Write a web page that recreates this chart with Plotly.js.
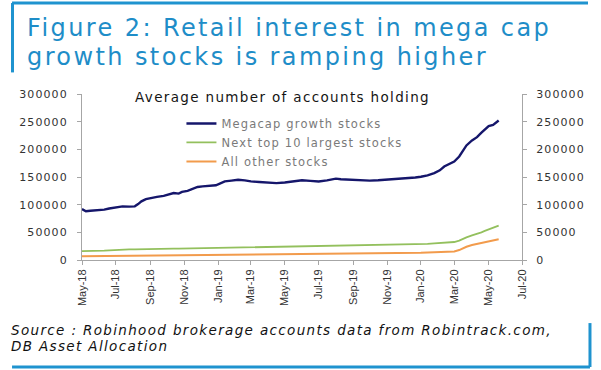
<!DOCTYPE html>
<html>
<head>
<meta charset="utf-8">
<script src="https://cdn.plot.ly/plotly-3.0.1.min.js"></script>
<style>
  html, body { margin: 0; padding: 0; background: #fff; }
  #chart { width: 601px; height: 370px; }
  svg text { letter-spacing: 0.1em; }
  svg .xtick text { letter-spacing: 0; }
</style>
</head>
<body>
<div id="chart"></div>
<script>
// ---- data ----
const dates = [
  '2018-05-01','2018-05-08','2018-05-16','2018-05-28','2018-06-10','2018-06-19','2018-07-01','2018-07-13',
  '2018-07-25','2018-08-04','2018-08-10','2018-08-16','2018-08-24','2018-09-01','2018-09-13','2018-09-25',
  '2018-10-04','2018-10-13','2018-10-22','2018-10-28','2018-11-07','2018-11-16','2018-11-25','2018-12-04',
  '2018-12-16','2018-12-28','2019-01-04','2019-01-13','2019-01-25','2019-02-06','2019-02-18','2019-03-01',
  '2019-03-16','2019-04-01','2019-04-16','2019-05-01','2019-05-16','2019-06-01','2019-06-16','2019-07-01',
  '2019-07-16','2019-08-01','2019-08-10','2019-08-25','2019-09-16','2019-10-01','2019-10-16','2019-11-01',
  '2019-11-16','2019-12-07','2019-12-22','2020-01-01','2020-01-13','2020-01-25','2020-02-04','2020-02-12',
  '2020-02-21','2020-03-01','2020-03-10','2020-03-16','2020-03-23','2020-04-02','2020-04-11','2020-04-19',
  '2020-04-25','2020-05-02','2020-05-10','2020-05-16','2020-05-20'
];
const megacap = [
  92000,88000,89000,89500,91000,93000,95000,97000,
  96500,97000,101000,106000,110000,112000,114000,116000,
  119000,121000,120000,123000,125000,129000,132000,133000,
  134000,135000,138000,142000,143500,145000,144000,142000,
  141000,140000,139000,140000,142000,144000,143000,142000,
  144000,147000,146000,145000,144000,143500,144000,145000,
  146000,147500,149000,150500,153000,157000,162000,169000,
  174000,178000,187000,197000,207000,216000,222000,230000,
  236000,242000,244000,249000,252000
];
const nextTop10 = [
  16000,16000,16200,16500,17000,17500,18500,19000,
  19200,19300,19500,19700,19800,20000,20100,20200,
  20300,20400,20500,20600,20700,20800,20900,21000,
  21100,21300,21500,21800,22000,22200,22300,22500,
  22700,23000,23200,23500,24000,24300,24600,25000,
  25200,25500,25600,25800,26000,26200,26400,26600,
  26900,27300,27700,28000,29000,30000,30500,31000,
  31500,32500,35000,38000,41000,44500,47000,50000,
  52500,55000,57500,60000,62000
];
const allOther = [
  7000,7050,7100,7200,7300,7400,7500,7600,
  7650,7700,7750,7800,7900,8000,8050,8100,
  8200,8250,8300,8350,8400,8500,8600,8700,
  8800,8900,9000,9100,9200,9300,9400,9500,
  9600,9700,9850,10000,10100,10200,10300,10400,
  10500,10600,10700,10800,11000,11200,11400,11600,
  11800,12000,12300,13000,13400,13800,14200,14500,
  15000,15500,18000,21000,24000,27000,29000,31000,
  32500,34000,35500,36800,37500
];
const seriesNames = ['Megacap growth stocks','Next top 10 largest stocks','All other stocks'];
const seriesColors = ['#15166b','#93c05d','#f29b4c'];
const yTickVals = [0,50000,100000,150000,200000,250000,300000];
const yTickText = ['0','50000','100000','150000','200000','250000','300000'];

const titleLines = ['Figure 2: Retail interest in mega cap','growth stocks is ramping higher'];
const chartSubtitle = 'Average number of accounts holding';
const sourceLines = ['Source : Robinhood brokerage accounts data from Robintrack.com,','DB Asset Allocation'];

// ---- figure ----
const FONT = 'DejaVu Sans, Arial, sans-serif';
const BLUE = '#1f93cf';

const traces = [
  {x: dates, y: megacap, name: seriesNames[0], type: 'scatter', mode: 'lines',
   line: {color: seriesColors[0], width: 2.4}},
  {x: dates, y: nextTop10, name: seriesNames[1], type: 'scatter', mode: 'lines',
   line: {color: seriesColors[1], width: 1.8}},
  {x: dates, y: allOther, name: seriesNames[2], type: 'scatter', mode: 'lines',
   line: {color: seriesColors[2], width: 2}},
  {x: [dates[0]], y: [null], yaxis: 'y2', showlegend: false, hoverinfo: 'skip',
   type: 'scatter', mode: 'lines'}
];

const axisCommon = {
  range: [0, 300000], tickvals: yTickVals, ticktext: yTickText,
  showgrid: false, zeroline: false, showline: true, linecolor: '#a6a6a6', linewidth: 1,
  ticks: 'outside', ticklen: 4, tickcolor: '#a6a6a6',
  tickfont: {family: FONT, size: 11, color: '#333'}, ticklabelstandoff: 7, fixedrange: true
};

const layout = {
  width: 601, height: 370,
  margin: {l: 82, r: 79, t: 94, b: 110},
  paper_bgcolor: '#fff', plot_bgcolor: '#fff',
  font: {family: FONT},
  showlegend: true,
  legend: {x: 0.226, y: 0.91, xanchor: 'left', yanchor: 'top', bgcolor: 'rgba(0,0,0,0)',
           font: {family: FONT, size: 11.5, color: '#7a7a7a'}, tracegroupgap: 0},
  xaxis: {
    type: 'date', range: ['2018-05-01', '2020-07-01'],
    tick0: '2018-05-01', dtick: 'M2', tickformat: '%b-%y', tickangle: -90,
    showgrid: false, zeroline: false, showline: true, linecolor: '#a6a6a6', linewidth: 1,
    ticks: 'outside', ticklen: 4, tickcolor: '#a6a6a6',
    tickfont: {family: 'Liberation Sans, Arial, sans-serif', size: 11, color: '#333'}
  },
  yaxis: Object.assign({side: 'left'}, axisCommon),
  yaxis2: Object.assign({side: 'right', overlaying: 'y'}, axisCommon),
  annotations: [
    {text: titleLines[0], xref: 'paper', yref: 'paper', x: -0.13, y: 1.40, xanchor: 'left', yanchor: 'middle',
     showarrow: false, font: {family: FONT, size: 24, color: '#1e8dc8'}},
    {text: titleLines[1], xref: 'paper', yref: 'paper', x: -0.13, y: 1.225, xanchor: 'left', yanchor: 'middle',
     showarrow: false, font: {family: FONT, size: 24, color: '#1e8dc8'}},
    {text: chartSubtitle, xref: 'paper', yref: 'paper', x: 0.4557, y: 0.984, xanchor: 'center', yanchor: 'middle',
     showarrow: false, font: {family: FONT, size: 13.5, color: '#151515'}},
    {text: sourceLines[0], xref: 'paper', yref: 'paper', x: -0.165, y: -0.42, xanchor: 'left', yanchor: 'middle',
     showarrow: false, font: {family: FONT, size: 13.5, color: '#111', style: 'italic'}},
    {text: sourceLines[1], xref: 'paper', yref: 'paper', x: -0.165, y: -0.518, xanchor: 'left', yanchor: 'middle',
     showarrow: false, font: {family: FONT, size: 13.5, color: '#111', style: 'italic'}}
  ],
  shapes: [
    {type: 'line', xref: 'paper', yref: 'paper', x0: -0.159, x1: 1.15, y0: 1.548, y1: 1.548,
     line: {color: BLUE, width: 3}},
    {type: 'line', xref: 'paper', yref: 'paper', x0: -0.158, x1: -0.158, y0: 1.548, y1: 1.13,
     line: {color: BLUE, width: 3}},
    {type: 'line', xref: 'paper', yref: 'paper', x0: -0.159, x1: 1.1545, y0: -0.6446, y1: -0.6446,
     line: {color: BLUE, width: 3}},
    {type: 'line', xref: 'paper', yref: 'paper', x0: 1.1545, x1: 1.1545, y0: -0.6446, y1: -0.38,
     line: {color: BLUE, width: 3}}
  ]
};

Plotly.newPlot('chart', traces, layout, {displayModeBar: false, staticPlot: true});
</script>
</body>
</html>
